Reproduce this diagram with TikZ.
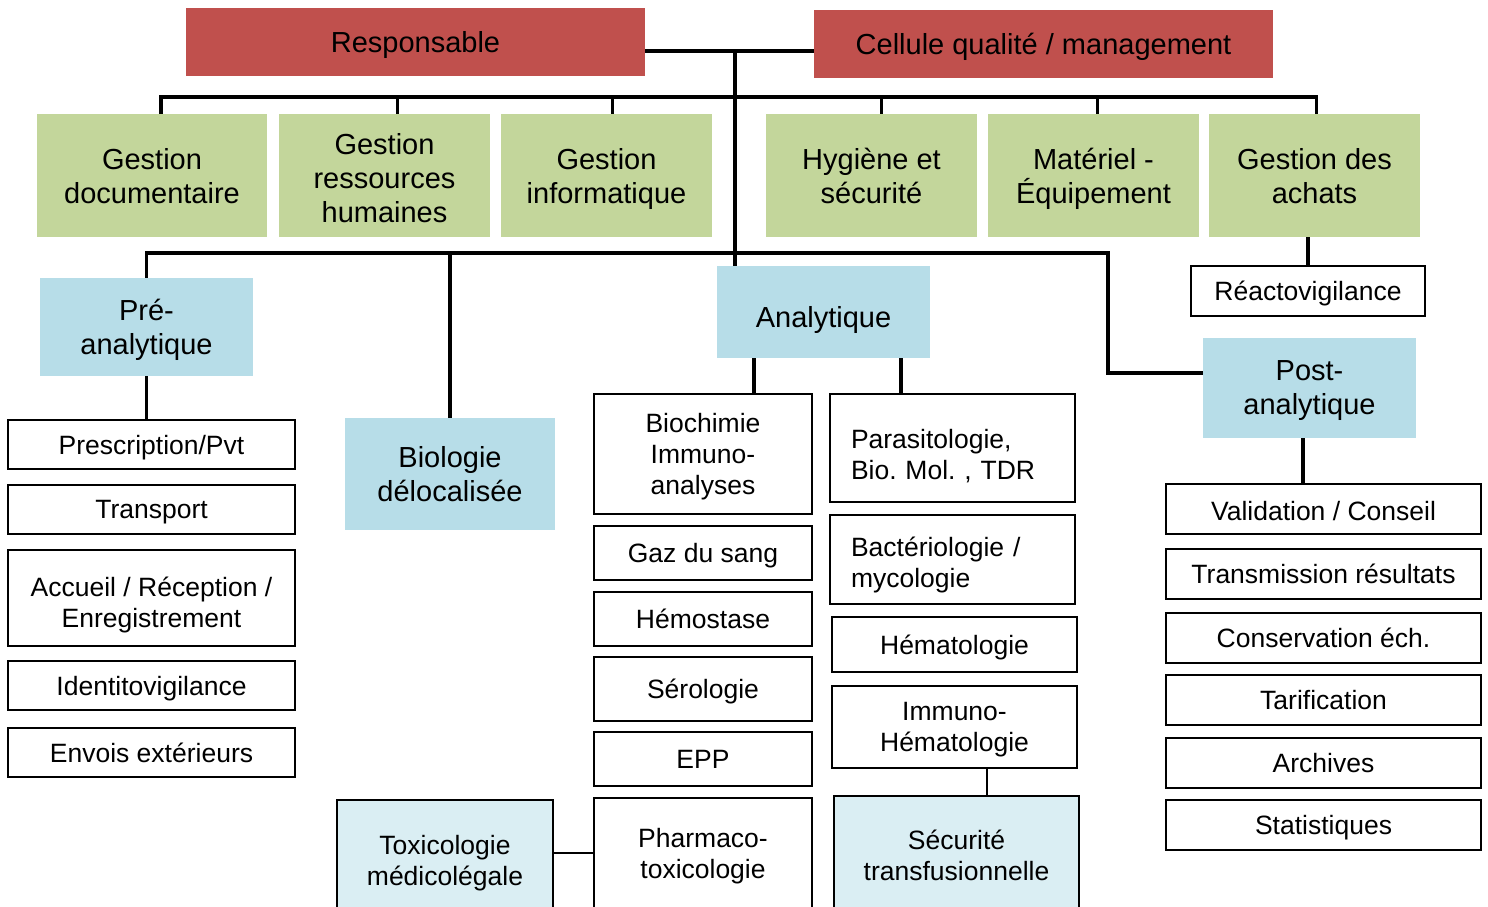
\documentclass[tikz,border=0pt]{standalone}
\usepackage{fontspec}
\setmainfont{Liberation Sans}
\usetikzlibrary{positioning}
\definecolor{chef}{HTML}{C0504D}
\definecolor{support}{HTML}{C3D69B}
\definecolor{phase}{HTML}{B7DDE8}
\definecolor{annexe}{HTML}{DAEEF3}

\begin{document}
\frenchspacing
\begin{tikzpicture}[x=1pt,y=-1pt,
  base/.style={inner sep=0pt, align=center, text depth=0pt},
  chefbox/.style={base, fill=chef, minimum width=459pt, minimum height=68pt, font=\fontsize{29}{34}\selectfont},
  supbox/.style={base, fill=support, minimum width=211pt, minimum height=123pt, font=\fontsize{29}{34}\selectfont},
  phasebox/.style={base, fill=phase, minimum width=213pt, font=\fontsize{29}{34}\selectfont},
  unitbox/.style={base, draw, line width=2pt, fill=white, font=\fontsize{26.5}{31}\selectfont},
  annexebox/.style={unitbox, fill=annexe},
  precol/.style={unitbox, minimum width=287pt, minimum height=49pt},
  anacol/.style={unitbox, minimum width=218pt, minimum height=54pt},
  specol/.style={unitbox, minimum width=245pt},
  postcol/.style={unitbox, minimum width=315pt, minimum height=50pt},
  bus/.style={line width=3.5pt},
  lien/.style={line width=2pt}]
  \useasboundingbox (0,0) rectangle (1488,906);
  \clip (0,0) rectangle (1488,906);

  % direction
  \node[chefbox] (resp) at (415.5,42) {Responsable};
  \node[chefbox] (cell) at (1043.5,44) {Cellule qualité / management};

  % fonctions support
  \node[supbox, minimum width=230pt] (gdoc) at (152,175.5) {Gestion\\documentaire};
  \node[supbox, text height=93pt] (grh) at (384.5,175.5) {Gestion\\ressources\\humaines};
  \node[supbox] (ginf) at (606.5,175.5) {Gestion\\informatique};
  \node[supbox] (hyg) at (871.5,175.5) {Hygiène et\\sécurité};
  \node[supbox] (mat) at (1093.5,175.5) {Matériel -\\Équipement};
  \node[supbox] (gach) at (1314.5,175.5) {Gestion des\\achats};

  % phases
  \node[phasebox, minimum height=98pt] (pre) at (146.5,327) {Pré-\\analytique};
  \node[phasebox, minimum width=210pt, minimum height=112pt] (bio) at (450,474) {Biologie\\délocalisée};
  \node[phasebox, minimum height=92pt, text height=31pt] (ana) at (823.5,312) {Analytique};
  \node[phasebox, minimum height=100pt] (post) at (1309.5,388) {Post-\\analytique};

  % pre-analytique
  \node[precol] (presc) at (151.5,444.5) {Prescription/Pvt};
  \node[precol] (transp) at (151.5,509.5) {Transport};
  \node[precol, minimum height=96pt, text height=58pt] (accu) at (151.5,598) {Accueil / Réception /\\Enregistrement};
  \node[precol] (ident) at (151.5,685.5) {Identitovigilance};
  \node[precol] (envoi) at (151.5,752.5) {Envois extérieurs};
  \node[annexebox, minimum width=216pt, minimum height=120pt] (toxi) at (445,860) {Toxicologie\\médicolégale};

  % analytique
  \node[anacol, minimum height=120pt] (bioch) at (703,454) {Biochimie\\Immuno-\\analyses};
  \node[anacol] (gaz) at (703,553) {Gaz du sang};
  \node[anacol] (hemo) at (703,619) {Hémostase};
  \node[anacol, minimum height=64pt] (sero) at (703,689) {Sérologie};
  \node[anacol] (epp) at (703,759) {EPP};
  \node[anacol, minimum height=110pt] (pharm) at (703,853) {Pharmaco-\\toxicologie};

  \node[specol, minimum height=108pt, align=left, text width=203pt, inner xsep=21pt, text depth=19pt] (para) at (952.5,448) {Parasitologie,\\Bio. Mol. , TDR};
  \node[specol, minimum height=89pt, align=left, text width=203pt, inner xsep=21pt, text depth=25pt] (bact) at (952.5,559.5) {Bactériologie /\\mycologie};
  \node[specol, minimum height=55pt] (hemat) at (954.5,644.5) {Hématologie};
  \node[specol, minimum height=82pt] (ihem) at (954.5,727) {Immuno-\\Hématologie};
  \node[annexebox, minimum width=245pt, minimum height=118pt] (secu) at (956.5,855) {Sécurité\\transfusionnelle};

  % post-analytique
  \node[unitbox, minimum width=234pt, minimum height=50pt] (reac) at (1308,291) {Réactovigilance};
  \node[postcol, text height=23pt] (valid) at (1323.5,509) {Validation / Conseil};
  \node[postcol] (trans) at (1323.5,574) {Transmission résultats};
  \node[postcol] (cons) at (1323.5,638) {Conservation éch.};
  \node[postcol] (tarif) at (1323.5,700) {Tarification};
  \node[postcol] (arch) at (1323.5,763) {Archives};
  \node[postcol] (stat) at (1323.5,825) {Statistiques};

  % liaisons
  \coordinate (hub) at (735,51);
  \coordinate (bus1) at (735,97);
  \coordinate (elbow) at (1108,253);
  \coordinate (a1) at (754,0);
  \coordinate (a2) at (901,0);
  \coordinate (p1) at (1303,0);
  \coordinate (c3) at (987,0);

  \draw[bus] (hub -| resp.east) -- (hub -| cell.west);
  \draw[bus] (hub) -- (hub |- ana.north);
  \draw[bus] ([xshift=9]gdoc.north) |- (bus1) -| ([xshift=2]gach.north);
  \foreach \n/\dx in {grh/13, ginf/6, hyg/10, mat/4}
    \draw[bus] ([xshift=\dx]\n.north) -- ++(0,-17);
  \draw[bus] (pre.north) |- (elbow) |- ([yshift=15]post.west);
  \draw[bus] (bio.north) -- (bio.north |- elbow);
  \draw[bus] (reac.north) -- (reac.north |- gach.south);
  \draw[bus] (pre.south) -- (pre.south |- presc.north);
  \draw[bus] (a1 |- ana.south) -- (a1 |- bioch.north);
  \draw[bus] (a2 |- ana.south) -- (a2 |- para.north);
  \draw[bus] (p1 |- post.south) -- (p1 |- valid.north);
  \draw[lien] (c3 |- ihem.south) -- (c3 |- secu.north);
  \draw[lien] (toxi.east |- pharm.west) -- (pharm.west);
\end{tikzpicture}
\end{document}
